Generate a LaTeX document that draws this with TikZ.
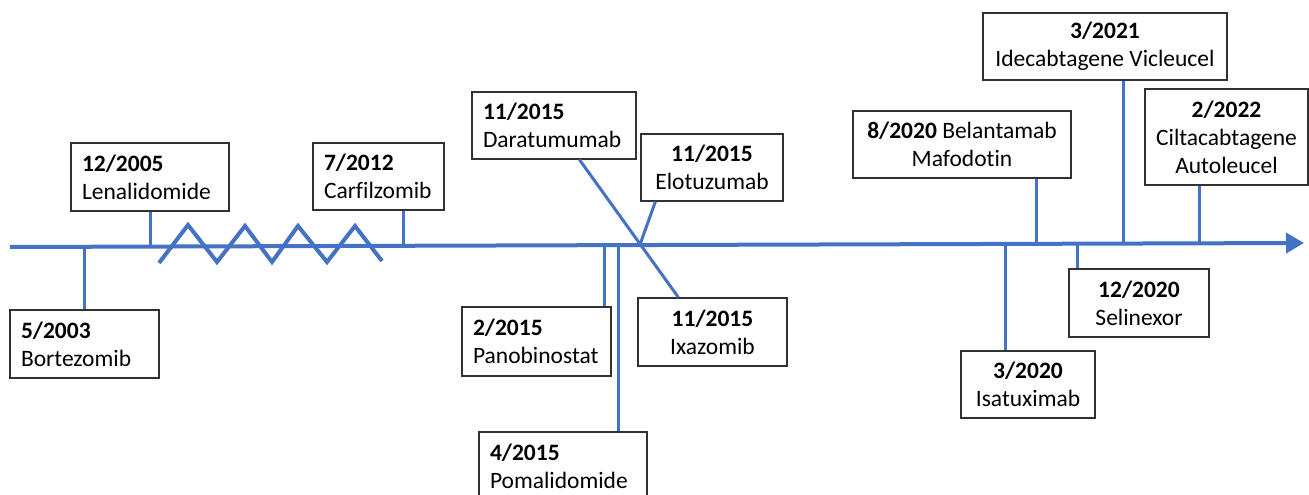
\documentclass[tikz,border=0pt]{standalone}
\usepackage{fontspec}
\setmainfont{Carlito}[Ligatures=NoCommon]
\usetikzlibrary{arrows.meta,calc}
\definecolor{tlblue}{RGB}{68,114,196}
\definecolor{boxline}{RGB}{50,50,50}
\tikzset{
  box/.style={draw=boxline, line width=1.2pt, fill=white, inner xsep=11pt, inner ysep=2pt,
    font=\fontsize{23.5}{28}\selectfont},
  lbox/.style={box, align=left},
  cbox/.style={box, align=center},
  axisline/.style={draw=tlblue, line width=4pt, -{Triangle[length=18pt,width=20pt]}},
  stub/.style={draw=tlblue, line width=3pt},
  zigzag/.style={draw=tlblue, line width=4pt, line join=miter},
}
\begin{document}
\begin{tikzpicture}[x=1pt,y=-1pt]
\useasboundingbox (0,0) rectangle (1309,495);
\clip (0,0) rectangle (1309,495);
% axis
\coordinate (start) at (10,247);
\coordinate (end) at (1304,243);
\draw[axisline] (start) -- (end);
% zigzag
\draw[zigzag] (159,263) -- (188,225) -- (217,262) -- (245,226) -- (272,262) -- (298,226) -- (327,262) -- (355,226) -- (382,261);
% boxes
\node[lbox, minimum width=149pt, minimum height=68pt, text width=127pt] (bor) at (84.5,344) {\textbf{5/2003}\\Bortezomib};
\node[lbox, minimum width=158pt, minimum height=68pt, text width=136pt] (len) at (150,177) {\textbf{12/2005}\\Lenalidomide};
\node[lbox, minimum width=131pt, minimum height=67pt, text width=109pt] (car) at (378.5,176.5) {\textbf{7/2012}\\Carfilzomib};
\node[lbox, minimum width=164pt, minimum height=67pt, text width=142pt] (dar) at (554,125.5) {\textbf{11/2015}\\Daratumumab};
\node[cbox, minimum width=142pt, minimum height=67pt] (elo) at (712,167.5) {\textbf{11/2015}\\Elotuzumab};
\node[cbox, minimum width=149pt, minimum height=68pt] (ixa) at (712.5,332) {\textbf{11/2015}\\Ixazomib};
\node[lbox, minimum width=149pt, minimum height=69pt, text width=127pt] (pan) at (536.5,341.5) {\textbf{2/2015}\\Panobinostat};
\node[lbox, minimum width=168pt, minimum height=68pt, text width=146pt] (pom) at (563,466) {\textbf{4/2015}\\Pomalidomide};
\node[cbox, minimum width=218pt, minimum height=67pt] (bel) at (962,144.5) {\textbf{8/2020} Belantamab\\Mafodotin};
\node[cbox, minimum width=244pt, minimum height=67pt] (ide) at (1105,46.5) {\textbf{3/2021}\\Idecabtagene Vicleucel};
\node[cbox, minimum width=163pt, minimum height=96pt] (cil) at (1226.5,137) {\textbf{2/2022}\\Ciltacabtagene\\Autoleucel};
\node[cbox, minimum width=134pt, minimum height=67pt] (isa) at (1028,384.5) {\textbf{3/2020}\\Isatuximab};
\node[cbox, minimum width=140pt, minimum height=68pt] (sel) at (1139,303) {\textbf{12/2020}\\Selinexor};
% axis points
\coordinate (pbor) at (84,246.8);
\coordinate (plen) at (150,246.6);
\coordinate (pcar) at (403,245.8);
\coordinate (ppan) at (604,245.2);
\coordinate (ppom) at (618,245.1);
\coordinate (pdaixa) at (640,244.5);
\coordinate (pisa) at (1005,243.9);
\coordinate (pbel) at (1036,243.8);
\coordinate (psel) at (1077,243.7);
\coordinate (pide) at (1123,243.6);
\coordinate (pcil) at (1199,243.3);
% stubs
\draw[stub] (pbor) -- (pbor |- bor.north);
\draw[stub] (plen) -- (plen |- len.south);
\draw[stub] (pcar) -- (pcar |- car.south);
\draw[stub] (ppan) -- (ppan |- pan.north);
\draw[stub] (ppom) -- (ppom |- pom.north);
\draw[stub] (pisa) -- (pisa |- isa.north);
\draw[stub] (pbel) -- (pbel |- bel.south);
\draw[stub] (psel) -- (psel |- sel.north);
\draw[stub] (pide) -- (pide |- ide.south);
\draw[stub] (pcil) -- (pcil |- cil.south);
\coordinate (dtop) at ($(dar.south west)+(108,0)$);
\coordinate (ibot) at ($(ixa.north west)+(41,0)$);
\coordinate (etop) at ($(elo.south west)+(15,0)$);
\draw[stub] (dtop) -- (ibot);
\draw[stub] (etop) -- (pdaixa);
\end{tikzpicture}
\end{document}
